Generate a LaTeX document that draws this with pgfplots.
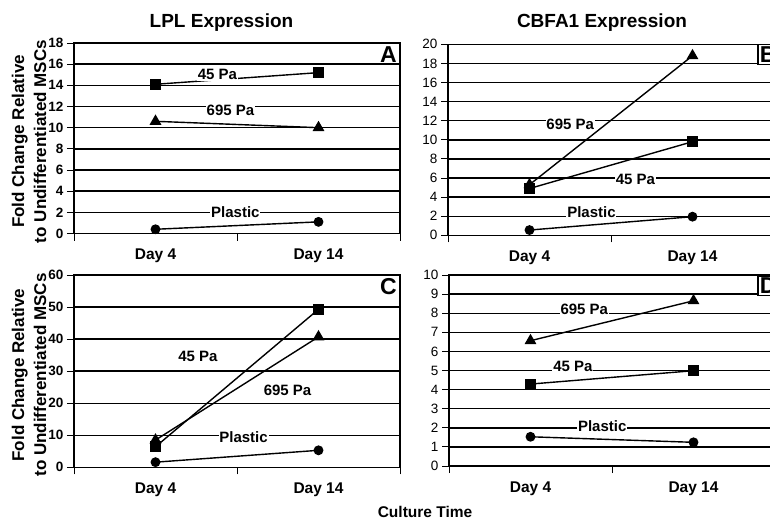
\documentclass[border=0pt]{standalone}
\usepackage{fontspec}
\setmainfont{Liberation Sans}
\usepackage{pgfplots}
\pgfplotsset{compat=1.18}

\pgfplotsset{
  panel/.style={
    scale only axis, width=326pt, anchor=south west,
    xmin=0, xmax=2, xtick={0,1,2}, xticklabels={},
    ymin=0,
    xtick pos=bottom, ytick pos=left, tick align=outside,
    major tick length=7pt,
    axis line style={line width=1.6pt},
    every tick/.style={black, line width=1pt},
    ymajorgrids, grid style={black, line width=1.4pt},
    clip=false,
    /pgf/number format/assume math mode=true,
    yticklabel style={font=\fontsize{13.5}{13.5}\selectfont},
  },
  boldticks/.style={yticklabel style={font=\bfseries\fontsize{13.5}{13.5}\selectfont}},
  ser/.style={black, line width=1.4pt, mark options={solid, fill=black}},
  sq/.style={ser, mark=square*, mark size=4.6pt},
  tri/.style={ser, mark=triangle*, mark size=5.5pt},
  circ/.style={ser, mark=*, mark size=4.2pt},
}
\tikzset{
  lab/.style={fill=white, inner sep=0.8pt, font=\bfseries\fontsize{15}{15}\selectfont},
  day/.style={yshift=-22.5pt, font=\bfseries\fontsize{15.5}{15.5}\selectfont},
  letter/.style={font=\bfseries\fontsize{23}{23}\selectfont},
}

\begin{document}
\begin{tikzpicture}[x=1pt, y=1pt]
\path[use as bounding box] (0pt,0pt) rectangle (770pt,520pt);

% A: LPL, day 4 / day 14
\begin{axis}[panel, boldticks, at={(74pt,286.5pt)}, height=190.5pt, ymax=18, ytick={0,2,...,18}]
\addplot[sq] coordinates {(0.5,14.1) (1.5,15.2)};
\addplot[tri] coordinates {(0.5,10.6) (1.5,10.0)};
\addplot[circ] coordinates {(0.5,0.4) (1.5,1.1)};
\node[lab] at (axis cs:0.88,15.0) {45 Pa};
\node[lab] at (axis cs:0.96,11.6) {695 Pa};
\node[lab] at (axis cs:0.99,2.0) {Plastic};
\node[day] at (axis cs:0.5,0) {Day 4};
\node[day] at (axis cs:1.5,0) {Day 14};
\node[letter, anchor=north east, inner sep=3pt] at (rel axis cs:1,1) {A};
\end{axis}

% B: CBFA1
\begin{axis}[panel, at={(448pt,284.7pt)}, height=191pt, ymax=20, ytick={0,2,...,20}]
\addplot[tri] coordinates {(0.5,5.3) (1.5,18.8)};
\addplot[sq] coordinates {(0.5,4.9) (1.5,9.8)};
\addplot[circ] coordinates {(0.5,0.55) (1.5,1.95)};
\node[lab] at (axis cs:0.75,11.65) {695 Pa};
\node[lab] at (axis cs:1.15,5.9) {45 Pa};
\node[lab] at (axis cs:0.88,2.47) {Plastic};
\node[day] at (axis cs:0.5,0) {Day 4};
\node[day] at (axis cs:1.5,0) {Day 14};
\end{axis}

% C
\begin{axis}[panel, boldticks, at={(74pt,52.7pt)}, height=192.3pt, ymax=60, ytick={0,10,...,60}]
\addplot[sq] coordinates {(0.5,6.4) (1.5,49.3)};
\addplot[tri] coordinates {(0.5,8.5) (1.5,40.7)};
\addplot[circ] coordinates {(0.5,1.6) (1.5,5.3)};
\node[lab] at (axis cs:0.76,34.7) {45 Pa};
\node[lab] at (axis cs:1.31,23.9) {695 Pa};
\node[lab] at (axis cs:1.04,9.5) {Plastic};
\node[day] at (axis cs:0.5,0) {Day 4};
\node[day] at (axis cs:1.5,0) {Day 14};
\node[letter, anchor=north east, inner sep=3pt] at (rel axis cs:1,1) {C};
\end{axis}

% D
\begin{axis}[panel, at={(449pt,54pt)}, height=191pt, ymax=10, ytick={0,1,...,10}]
\addplot[tri] coordinates {(0.5,6.56) (1.5,8.65)};
\addplot[sq] coordinates {(0.5,4.29) (1.5,4.99)};
\addplot[circ] coordinates {(0.5,1.53) (1.5,1.24)};
\node[lab] at (axis cs:0.83,8.2) {695 Pa};
\node[lab] at (axis cs:0.76,5.24) {45 Pa};
\node[lab] at (axis cs:0.94,2.1) {Plastic};
\node[day] at (axis cs:0.5,0) {Day 4};
\node[day] at (axis cs:1.5,0) {Day 14};
\end{axis}

% letter boxes of the right panels, cut by the page edge
\node[letter, draw, line width=1.5pt, fill=white, anchor=north west, inner sep=2pt, minimum height=19pt] at (757pt,476pt) {B};
\node[letter, draw, line width=1.5pt, fill=white, anchor=north west, inner sep=2pt, minimum height=19pt] at (757pt,245pt) {D};

% titles and shared labels
\node[font=\bfseries\fontsize{19}{19}\selectfont] at (221.5pt,497pt) {LPL Expression};
\node[font=\bfseries\fontsize{19}{19}\selectfont] at (602pt,497pt) {CBFA1 Expression};
\node[rotate=90, align=center, font=\bfseries\fontsize{17}{22}\selectfont] at (29pt,378.5pt) {Fold Change Relative\\to Undifferentiated MSCs};
\node[rotate=90, align=center, font=\bfseries\fontsize{17}{22}\selectfont] at (29pt,145pt) {Fold Change Relative\\to Undifferentiated MSCs};
\node[font=\bfseries\fontsize{15.5}{15.5}\selectfont] at (425pt,8.5pt) {Culture Time};
\end{tikzpicture}
\end{document}
